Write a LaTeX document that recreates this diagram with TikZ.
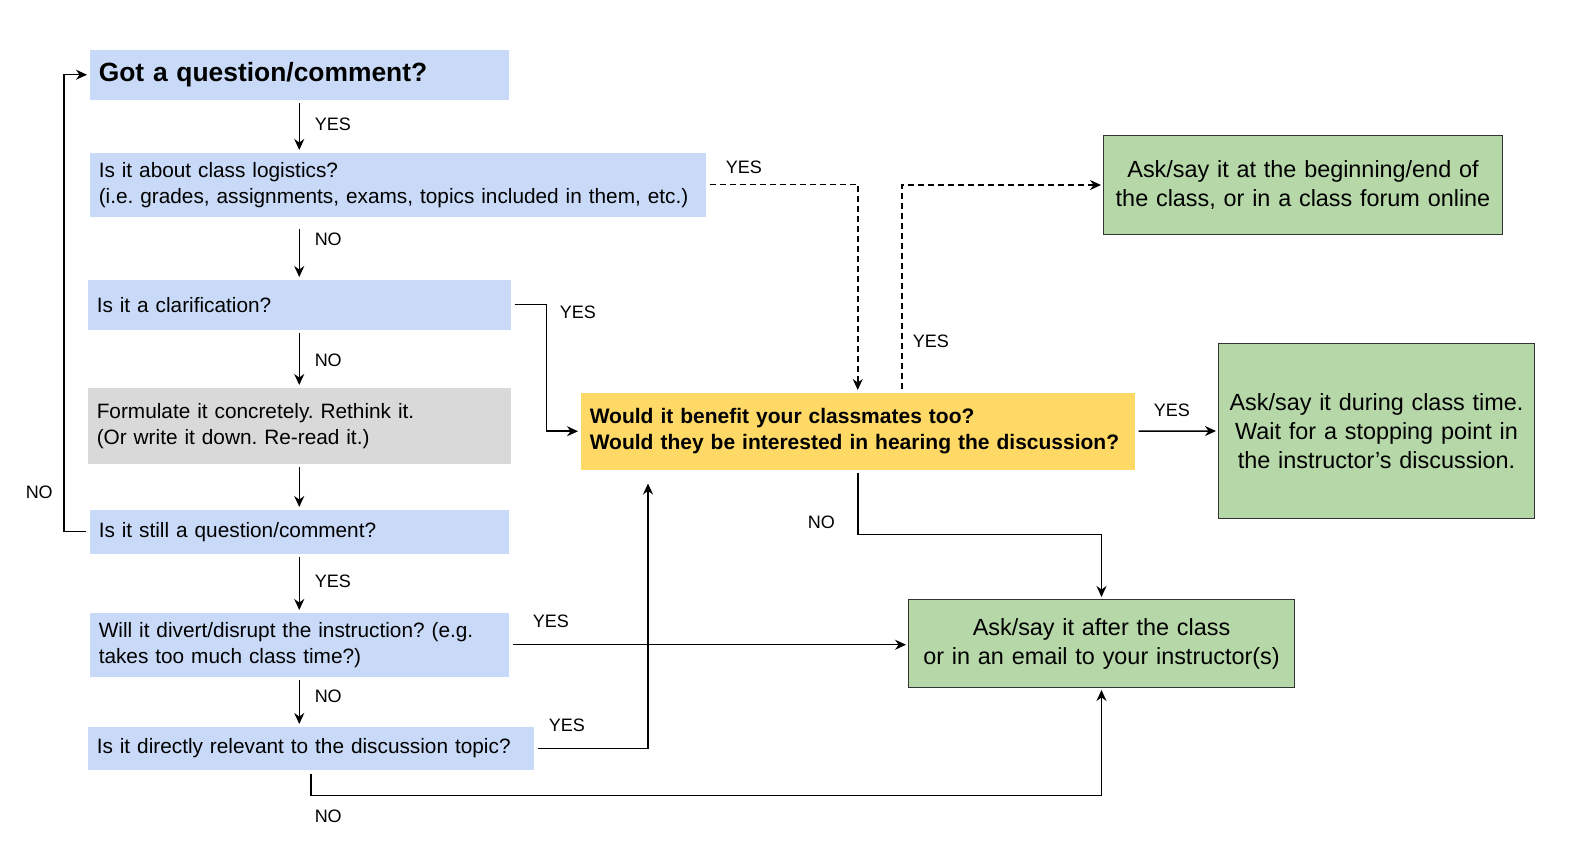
\documentclass[tikz,border=0pt]{standalone}
\usepackage{fontspec}
\setmainfont{Liberation Sans}
\usetikzlibrary{arrows.meta, positioning, calc}
\usepackage{xcolor}
\definecolor{qblue}{HTML}{C9DAF8}
\definecolor{qgray}{HTML}{D9D9D9}
\definecolor{qyellow}{HTML}{FFD966}
\definecolor{agreen}{HTML}{B6D7A8}
\frenchspacing

\begin{document}
\begin{tikzpicture}[x=0.5pt, y=-0.5pt, shorten >=1pt, line width=0.75pt, >={Stealth[length=5.5pt,width=5pt]}]
    \tikzstyle{box}=[rectangle, anchor=north west, inner xsep=4.5pt, inner ysep=0pt]
    \tikzstyle{question}=[box, fill=qblue, align=left, font=\fontsize{10.4}{13}\selectfont]
    \tikzstyle{think}=[question, fill=qgray]
    \tikzstyle{share}=[box, fill=qyellow, align=left, font=\fontsize{10.5}{13}\selectfont\bfseries]
    \tikzstyle{answer}=[box, inner xsep=0pt, fill=agreen, draw=black!80, line width=0.5pt, align=center, font=\fontsize{11.7}{14.5}\selectfont]
    \tikzstyle{lbl}=[anchor=west, inner sep=0pt, font=\fontsize{9}{10}\selectfont]
    \tikzstyle{flow}=[->, shorten <=1.5pt]
    \tikzstyle{maybe}=[flow, dash pattern=on 3pt off 2pt]

    \useasboundingbox (0,0) rectangle (1569,849);

    % questions on the left
    \node[question, text width=200.5pt, minimum height=25pt, font=\fontsize{13.2}{15}\selectfont\bfseries] (got) at (89,49) {Got a question/comment?};
    \node[question, text width=299pt, minimum height=32pt] (logi) at (89,152) {Is it about class logistics?\\(i.e. grades, assignments, exams, topics included in them, etc.)};
    \node[question, text width=202.5pt, minimum height=25pt] (clar) at (87,279) {Is it a clarification?};
    \node[think, text width=202.5pt, minimum height=38pt] (form) at (87,387) {Formulate it concretely. Rethink it.\\(Or write it down. Re-read it.)};
    \node[question, text width=200.5pt, minimum height=22pt] (still) at (89,509) {Is it still a question/comment?};
    \node[question, text width=200.5pt, minimum height=32pt] (div) at (89,612) {Will it divert/disrupt the instruction? (e.g.\\takes too much class time?)};
    \node[question, text width=214pt, minimum height=21.5pt] (rel) at (87,726) {Is it directly relevant to the discussion topic?};

    % middle and answers
    \node[share, text width=268pt, minimum height=38.5pt] (yel) at (580,392) {Would it benefit your classmates too?\\Would they be interested in hearing the discussion?};
    \node[answer, text width=199.5pt, minimum height=49.5pt] (g1) at (1103,135) {Ask/say it at the beginning/end of\\the class, or in a class forum online};
    \node[answer, text width=158pt, minimum height=87.5pt] (g2) at (1218,343) {Ask/say it during class time.\\Wait for a stopping point in\\the instructor's discussion.};
    \node[answer, text width=193pt, minimum height=44pt] (g3) at (908,599) {Ask/say it after the class\\or in an email to your instructor(s)};

    \coordinate (yup) at ($(yel.north)+(44,0)$);
    \coordinate (ylow) at ($(yel.south west)+(68,11)$);

    % connectors
    \draw[flow] (got.south) -- (got.south |- logi.north);
    \draw[flow, shorten <=6pt] (logi.south -| got.south) -- (clar.north);
    \draw[flow] (clar.south) -- (form.north);
    \draw[flow] (form.south) -- (still.north);
    \draw[flow] (still.south) -- (div.north);
    \draw[flow] (div.south) -- (div.south |- rel.north);
    \draw[flow] (still.west) -- ++(-25,0) |- (got.west);
    \draw[maybe] (logi.east) -| (yel.north);
    \draw[flow] (clar.east) -- ++(35,0) |- (yel.west);
    \draw[maybe] (yup) |- (g1.west);
    \draw[flow] (yel.east) -- (g2.west);
    \draw[flow] (yel.south) -- ++(0,64) -| (g3.north);
    \draw[flow] (div.east) -- (div.east -| g3.west);
    \draw[flow] (rel.east) -| (ylow);
    \draw[flow] (rel.south) -- ++(0,25) -| (g3.south);

    % labels
    \node[lbl] (l-got) at (314,124) {YES};
    \node[lbl] (l-logi) at (314,239) {NO};
    \node[lbl] (l-clar) at (314,360) {NO};
    \node[lbl] (l-still) at (314,581) {YES};
    \node[lbl] (l-div) at (314,696) {NO};
    \node[lbl] (l-loop) at (25,492) {NO};
    \node[lbl] (l-logiyes) at (725,167) {YES};
    \node[lbl] (l-claryes) at (559,312) {YES};
    \node[lbl] (l-g1) at (912,341) {YES};
    \node[lbl] (l-g2) at (1153,410) {YES};
    \node[lbl] (l-g3) at (807,522) {NO};
    \node[lbl] (l-divyes) at (532,621) {YES};
    \node[lbl] (l-relyes) at (548,725) {YES};
    \node[lbl] (l-relno) at (314,816) {NO};
\end{tikzpicture}
\end{document}
